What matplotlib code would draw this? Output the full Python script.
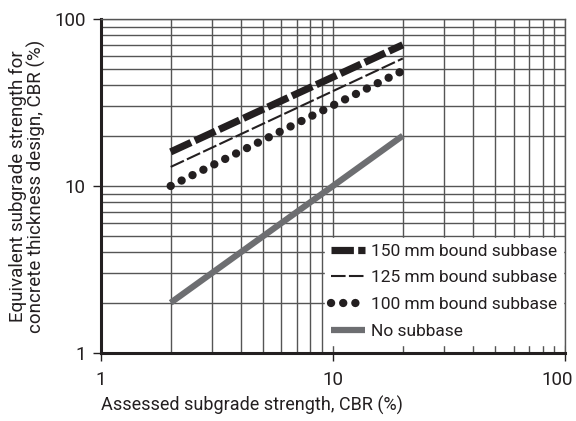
import matplotlib
matplotlib.use("Agg")
import matplotlib.pyplot as plt
import matplotlib.transforms as mtransforms
from matplotlib.ticker import LogLocator, NullFormatter, FixedLocator, FixedFormatter

plt.rcParams['font.family'] = ['Roboto', 'DejaVu Sans']

x_vals = [2, 20]
y_150 = [16, 70]
y_125 = [13, 58]
y_100 = [10, 49]
y_none = [2, 20]
labels = ['150 mm bound subbase', '125 mm bound subbase', '100 mm bound subbase', 'No subbase']
tick_vals = [1, 10, 100]
tick_labels = ['1', '10', '100']

fig = plt.figure(figsize=(5.76, 4.21), dpi=100)
ax = fig.add_axes([0.175, 0.1615, 0.806, 0.7935])
ax.set_xscale('log')
ax.set_yscale('log')
ax.set_xlim(1, 100)
ax.set_ylim(1, 100)

ink = '#231f20'
ax.plot(x_vals, y_150, color=ink, lw=5.2, dashes=(3.1, 0.6), dash_capstyle='butt', label=labels[0], zorder=3)
ax.plot(x_vals, y_125, color=ink, lw=1.5, dashes=(7, 1.6), dash_capstyle='butt', label=labels[1], zorder=3)
ax.plot(x_vals, y_100, color=ink, lw=6.0, dashes=(0.01, 1.45), dash_capstyle='round', label=labels[2], zorder=3)
ax.plot(x_vals, y_none, color='#6d6e71', lw=4.5, solid_capstyle='butt', label=labels[3], zorder=3)

ax.xaxis.set_major_locator(FixedLocator(tick_vals))
ax.xaxis.set_major_formatter(FixedFormatter(tick_labels))
ax.yaxis.set_major_locator(FixedLocator(tick_vals))
ax.yaxis.set_major_formatter(FixedFormatter(tick_labels))
ax.xaxis.set_minor_locator(LogLocator(base=10, subs=range(2, 10)))
ax.yaxis.set_minor_locator(LogLocator(base=10, subs=range(2, 10)))
ax.xaxis.set_minor_formatter(NullFormatter())
ax.yaxis.set_minor_formatter(NullFormatter())
ax.grid(True, which='both', color='#555555', lw=1.0, zorder=1)
ax.set_axisbelow(True)
ax.tick_params(which='major', direction='out', length=6, width=1, colors=ink, labelsize=13.5)
ax.tick_params(axis='x', which='major', pad=7)
ax.tick_params(axis='y', which='major', pad=5)
ax.tick_params(which='minor', length=0)
fig.canvas.draw()
for lbl in ax.get_xticklabels():
    if lbl.get_text() == '100':
        lbl.set_horizontalalignment('right')
        lbl.set_transform(lbl.get_transform() + mtransforms.ScaledTranslation(8/100, 0, fig.dpi_scale_trans))

for s in ['top', 'right']:
    ax.spines[s].set_color('#555555')
    ax.spines[s].set_linewidth(1.0)
for s in ['left', 'bottom']:
    ax.spines[s].set_color(ink)
    ax.spines[s].set_linewidth(2.2)

ax.set_xlabel('Assessed subgrade strength, CBR (%)', fontsize=13, color=ink, labelpad=5, loc='left')
ax.set_ylabel('Equivalent subgrade strength for\nconcrete thickness design, CBR (%)', fontsize=13.5, color=ink,
              labelpad=6, linespacing=1.0)

leg = ax.legend(loc='lower right', bbox_to_anchor=(0.995, 0.025), frameon=True, fontsize=12.5,
                handlelength=2.0, handletextpad=0.3, labelspacing=0.66, borderpad=0.35,
                fancybox=False, borderaxespad=0.0)
leg.get_frame().set_edgecolor('white')
leg.get_frame().set_facecolor('white')
leg.get_frame().set_alpha(1)
for t in leg.get_texts():
    t.set_color(ink)

fig.savefig('out.png', dpi=100)
